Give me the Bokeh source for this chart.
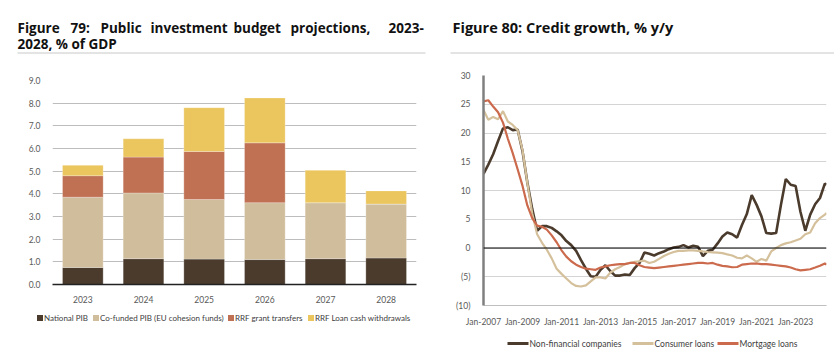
import datetime as dt
import pandas as pd
from bokeh.plotting import figure
from bokeh.layouts import column, row
from bokeh.models import (Range1d, FactorRange, FixedTicker, Span, Div,
                          DatetimeTickFormatter, ColumnDataSource, NumeralTickFormatter)
from bokeh.core.properties import value
from bokeh.embed import file_html
from bokeh.resources import INLINE

# ---------------- data: Figure 79 ----------------
years = ["2023", "2024", "2025", "2026", "2027", "2028"]
national_pib = [0.75, 1.14, 1.12, 1.10, 1.14, 1.17]
cofunded_pib = [3.10, 2.90, 2.63, 2.51, 2.47, 2.38]
rrf_grant = [0.95, 1.58, 2.12, 2.64, 0.0, 0.0]
rrf_loan = [0.46, 0.81, 1.93, 1.98, 1.43, 0.58]
bar_labels = ["National PIB", "Co-funded PIB (EU cohesion funds)", "RRF grant transfers",
              "RRF Loan cash withdrawals"]
bar_ticks = [0, 1, 2, 3, 4, 5, 6, 7, 8, 9]

# ---------------- data: Figure 80 ----------------
dates = (["%d-%02d" % (y, m) for y in range(2007, 2024) for m in (1, 4, 7, 10)]
         + ["2024-01", "2024-04", "2024-07", "2024-08"])
non_financial = [12.9, 14.5, 16.3, 18.6,
                 20.8, 21.0, 20.5, 20.6,
                 16.8, 11.4, 6.8, 3.0,
                 3.8, 3.8, 3.5, 2.9,
                 2.2, 1.2, 0.5, -0.5,
                 -2.1, -3.6, -4.9, -5.0,
                 -3.8, -3.0, -4.0, -4.8,
                 -4.8, -4.6, -4.7, -3.5,
                 -2.6, -0.8, -1.0, -1.3,
                 -0.9, -0.6, -0.2, 0.1,
                 0.2, 0.5, 0.1, 0.4,
                 0.2, -1.4, -0.5, -0.3,
                 0.8, 2.0, 2.7, 2.4,
                 1.8, 4.0, 5.9, 9.2,
                 7.5, 5.5, 2.6, 2.5,
                 2.6, 7.5, 12.0, 11.0,
                 10.8, 6.3, 3.0, 5.8,
                 7.6, 8.7, 11.2, 11.0]
consumer = [24.0, 22.3, 22.8, 22.4,
            23.8, 22.0, 21.4, 20.5,
            17.0, 11.3, 6.0, 2.4,
            0.9, -0.3, -1.8, -3.6,
            -4.5, -5.3, -6.1, -6.6,
            -6.7, -6.5, -5.8, -5.1,
            -5.1, -5.3, -4.3, -3.7,
            -3.3, -2.8, -2.6, -2.4,
            -2.3, -2.2, -2.6, -2.4,
            -1.9, -1.4, -1.0, -0.7,
            -0.5, -0.5, -0.4, -0.4,
            -0.5, -0.6, -0.7, -0.75,
            -0.8, -0.9, -1.1, -1.3,
            -1.7, -1.8, -1.3, -1.8,
            -2.4, -1.9, -2.2, -0.6,
            0.0, 0.5, 0.8, 1.0,
            1.3, 1.6, 2.4, 2.7,
            4.3, 5.2, 5.8, 6.1]
mortgage = [25.5, 25.7, 24.6, 23.6,
            21.8, 19.0, 16.5, 13.7,
            10.8, 7.4, 5.2, 3.9,
            3.7, 3.2, 2.2, 1.0,
            -0.4, -1.5, -2.3, -2.9,
            -3.3, -3.6, -3.7, -3.8,
            -3.4, -3.2, -3.0, -2.9,
            -2.8, -2.8, -2.6, -2.6,
            -3.0, -3.3, -3.4, -3.5,
            -3.4, -3.3, -3.2, -3.1,
            -3.0, -2.9, -2.8, -2.7,
            -2.6, -2.6, -2.7, -2.6,
            -2.9, -3.1, -3.2, -3.35,
            -3.3, -2.9, -2.8, -2.7,
            -2.7, -2.8, -2.8, -2.9,
            -3.0, -3.1, -3.2, -3.4,
            -3.7, -3.9, -3.8, -3.7,
            -3.4, -3.1, -2.7, -2.9]
line_labels = ["Non-financial companies", "Consumer loans", "Mortgage loans"]
tick_years = [2007, 2009, 2011, 2013, 2015, 2017, 2019, 2021, 2023]
y_ticks = [-10, -5, 0, 5, 10, 15, 20, 25, 30]

# ---------------- styles ----------------
TITLE_FONT = value("Open Sans")
SMALL_FONT = "Lato"
LABEL_COLOR = "#595959"
bar_colors = ["#4A3B2D", "#CFBD9B", "#C07153", "#EBC65E"]
line_colors = ["#4A3B2D", "#D5C09C", "#CB6A4C"]


def blank(width, height, left=0, right=0):
    # a bare canvas whose data units are the figure's own pixels
    f = figure(width=width, height=height, x_range=Range1d(left, width - right),
               y_range=Range1d(height, 0), min_border=0, min_border_left=left,
               min_border_right=right, toolbar_location=None, output_backend="svg")
    f.axis.visible = False
    f.grid.visible = False
    f.outline_line_color = None
    return f


# ---------------- header ----------------
head = blank(834, 55)
t_words = ["Figure", "79:", "Public", "investment", "budget", "projections,", "2023-",
           "2028, % of GDP", "Figure 80: Credit growth, % y/y"]
t_x = [17, 70, 100, 150, 233, 290, 388, 17, 452]
t_y = [27, 27, 27, 27, 27, 27, 27, 43, 27]
t_size = ["13.5px"] * 8 + ["14.5px"]
head.text(x=t_x, y=t_y, text=t_words, text_font=TITLE_FONT, text_font_style="bold",
          text_font_size=t_size, text_color="#111111", text_baseline="alphabetic")
head.segment(x0=[17, 450], y0=[52.5, 52.5], x1=[425, 834], y1=[52.5, 52.5],
             line_color="#c8c8c8", line_width=1)

# ---------------- Figure 79: stacked bars ----------------
p1 = figure(width=434, height=250, x_range=FactorRange(*years), y_range=Range1d(0, 9),
            min_border_left=52, min_border_right=18, min_border_top=25, min_border_bottom=18,
            toolbar_location=None, output_backend="svg")
src = ColumnDataSource(dict(year=years, national=national_pib, cofunded=cofunded_pib,
                            grant=rrf_grant, loan=rrf_loan))
p1.vbar_stack(["national", "cofunded", "grant", "loan"], x="year", width=0.67,
              fill_color=bar_colors, line_color="white", line_width=0.5, line_alpha=0.5,
              source=src)
p1.outline_line_color = None
p1.xgrid.grid_line_color = None
p1.ygrid.grid_line_color = "#bdbdbd"
p1.ygrid.grid_line_width = 1
p1.yaxis.ticker = FixedTicker(ticks=bar_ticks)
p1.yaxis.formatter = NumeralTickFormatter(format="0.0")
p1.yaxis.axis_line_color = None
p1.yaxis.major_tick_line_color = None
p1.yaxis.minor_tick_line_color = None
p1.yaxis.major_label_standoff = 6
p1.xaxis.axis_line_color = "#222222"
p1.xaxis.axis_line_width = 1.5
p1.xaxis.major_tick_line_color = None
p1.xaxis.major_label_standoff = 5
for ax in (p1.xaxis[0], p1.yaxis[0]):
    ax.major_label_text_font = SMALL_FONT
    ax.major_label_text_font_size = "8.5px"
    ax.major_label_text_color = LABEL_COLOR

# legend strip for Figure 79 (HTML, so it is not tied to the plot frame above it)
key_left = [37, 93, 228, 308]
parts = []
for lab, col, x0 in zip(bar_labels, bar_colors, key_left):
    parts.append('<span style="position:absolute;left:%dpx;top:10px;width:6px;height:6px;'
                 'background:%s"></span>' % (x0, col))
    parts.append('<span style="position:absolute;left:%dpx;top:7px;line-height:12px;'
                 'white-space:nowrap">%s</span>' % (x0 + 7, lab))
foot1 = Div(text='<div style="position:relative;width:434px;height:46px;font-family:Lato;'
                 'font-size:8px;color:#404040">' + "".join(parts) + '</div>',
            width=434, height=46, margin=0)

# ---------------- Figure 80: lines ----------------
xd = pd.to_datetime(dates)
p2 = figure(width=400, height=275, x_axis_type="datetime",
            x_range=Range1d(dt.datetime(2007, 1, 1), dt.datetime(2024, 8, 1)),
            y_range=Range1d(-10, 30),
            min_border_left=49, min_border_right=8, min_border_top=20, min_border_bottom=25,
            toolbar_location=None, output_backend="svg")
p2.outline_line_color = None
p2.xgrid.grid_line_color = None
p2.ygrid.grid_line_color = "#d4d4d4"
p2.ygrid.grid_line_width = 1
p2.add_layout(Span(location=0, dimension="width", line_color="black", line_width=1.2))
for vals, col, w in zip([non_financial, consumer, mortgage], line_colors, [2.6, 2.2, 2.2]):
    p2.line(xd, vals, line_color=col, line_width=w)
p2.yaxis.ticker = FixedTicker(ticks=y_ticks)
p2.yaxis.major_label_overrides = {-10: "(10)", -5: "(5)"}
p2.yaxis.axis_line_color = "#808080"
p2.yaxis.axis_line_width = 2.5
p2.yaxis.major_tick_line_color = None
p2.yaxis.minor_tick_line_color = None
p2.yaxis.major_label_standoff = 7
p2.xaxis.ticker = FixedTicker(ticks=[dt.datetime(y, 1, 1).timestamp() * 1000 for y in tick_years])
fmt = "Jan-%Y"
p2.xaxis.formatter = DatetimeTickFormatter(years=fmt, months=fmt, days=fmt, hours=fmt,
                                           hourmin=fmt, minutes=fmt, minsec=fmt, seconds=fmt,
                                           milliseconds=fmt, microseconds=fmt)
p2.xaxis.axis_line_color = "#bfbfbf"
p2.xaxis.axis_line_width = 1
p2.xaxis.major_tick_line_color = None
p2.xaxis.minor_tick_line_color = None
p2.xaxis.major_label_standoff = 5
for ax in (p2.xaxis[0], p2.yaxis[0]):
    ax.major_label_text_font = SMALL_FONT
    ax.major_label_text_font_size = "8.5px"
    ax.major_label_text_color = LABEL_COLOR

# legend strip for Figure 80 (same side borders as the chart above it)
foot2 = blank(400, 21, left=49, right=8)
foot2.segment(x0=[73, 198, 283], y0=[13] * 3, x1=[94, 219, 304], y1=[13] * 3,
              line_color=line_colors, line_width=3)
foot2.text(x=[95, 220, 305], y=[13] * 3, text=line_labels, text_font=value(SMALL_FONT),
           text_font_size="8.5px", text_color="#404040", text_baseline="middle")

layout = column(head, row(column(p1, foot1), column(p2, foot2)))
open("out.html", "w").write(file_html(layout, INLINE))
